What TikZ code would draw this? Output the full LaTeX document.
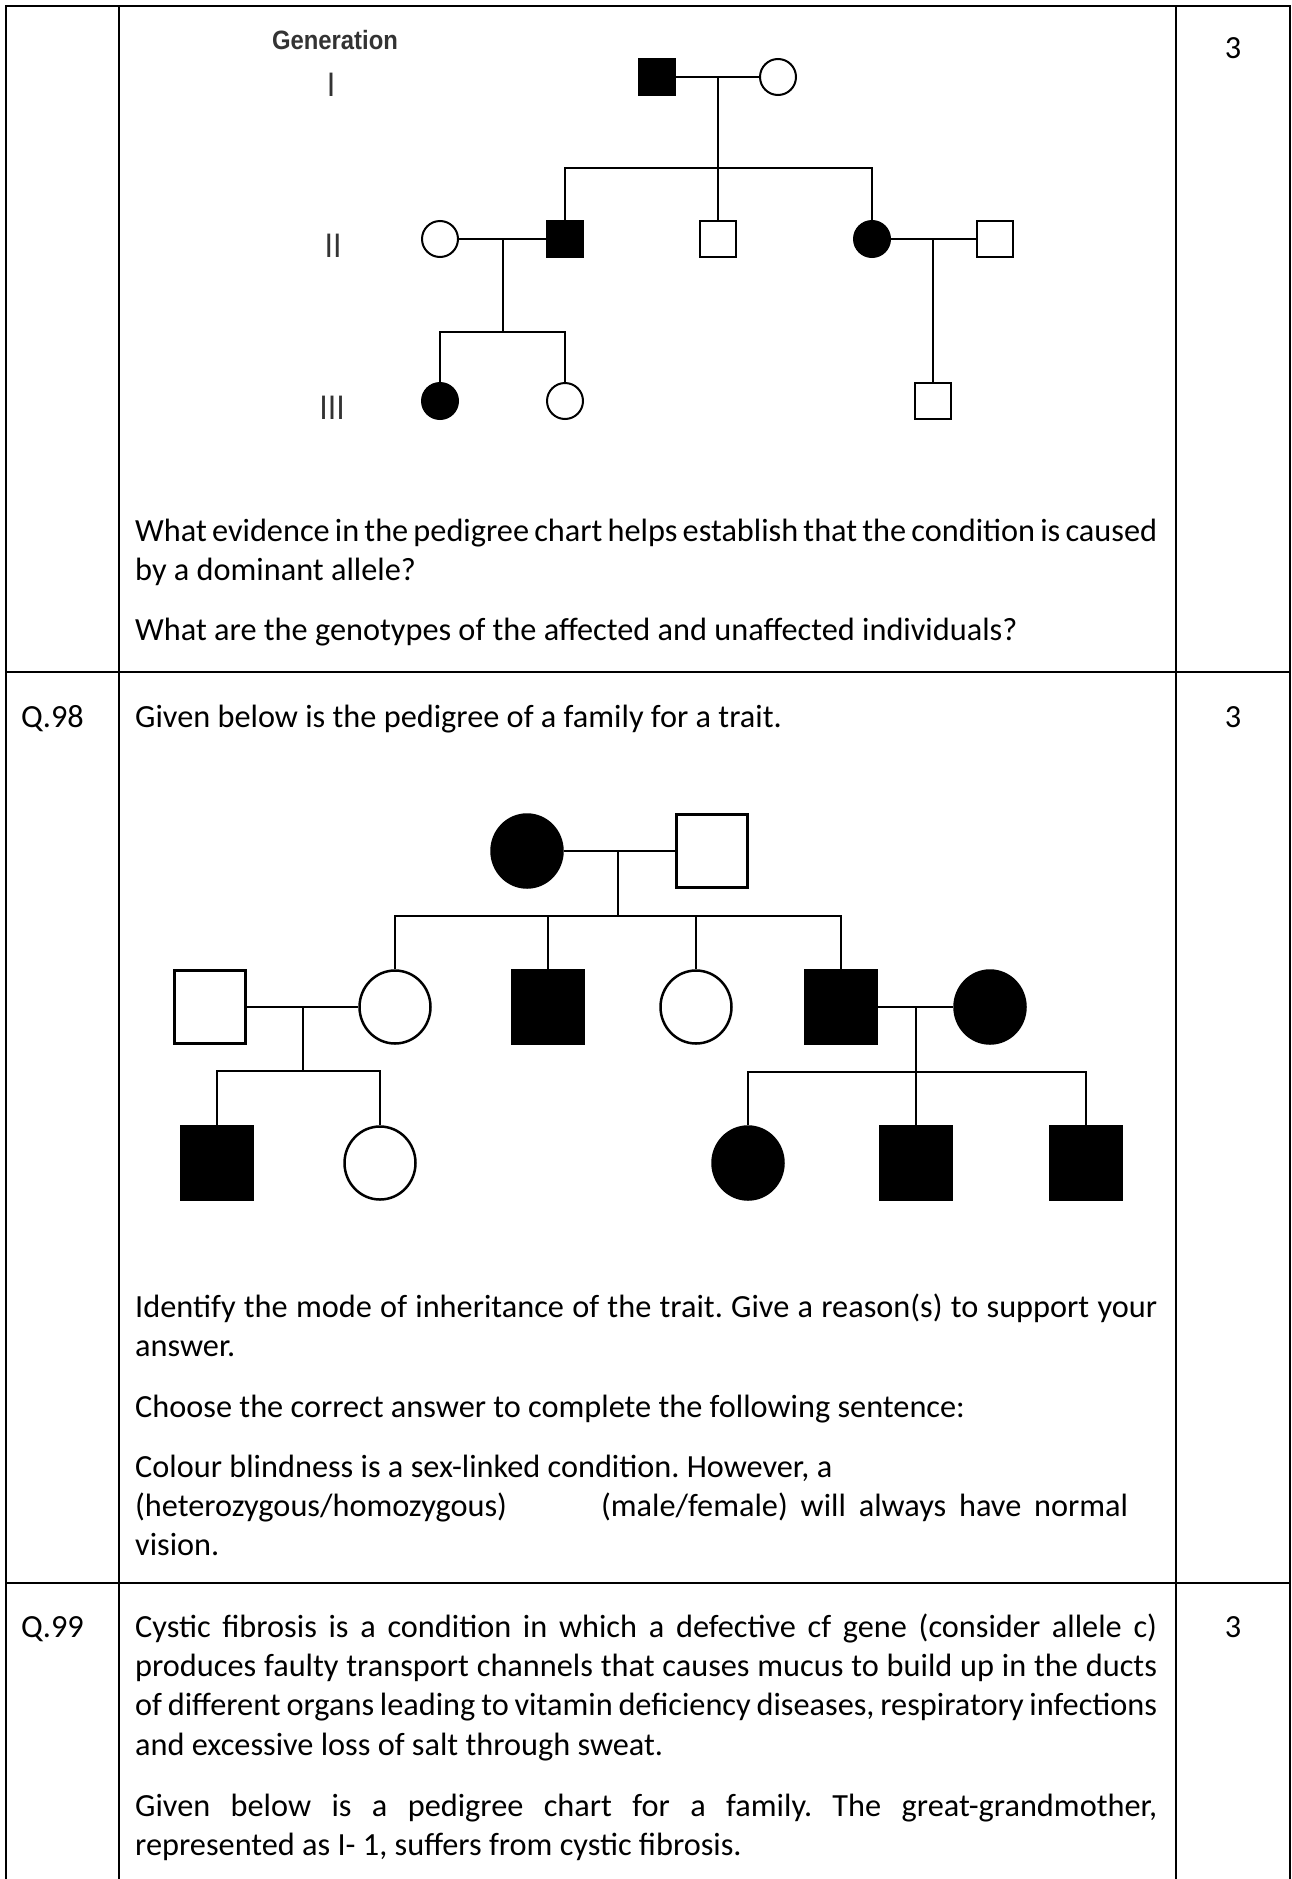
\documentclass[tikz,border=0pt]{standalone}
\usepackage{fontspec}
\setmainfont{Carlito}
\newfontfamily\genfont[FakeStretch=0.9]{Liberation Sans}
\usetikzlibrary{shapes,calc}
\frenchspacing

\begin{document}
\begin{tikzpicture}[x=1pt,y=-1pt,
    tbl/.style={line width=2.2pt},
    male/.style={draw,rectangle,line width=2pt,minimum size=36pt,inner sep=0pt},
    female/.style={draw,circle,line width=2pt,minimum size=36pt,inner sep=0pt},
    bigmale/.style={draw,rectangle,line width=2.5pt,minimum width=71pt,minimum height=73pt,inner sep=0pt},
    bigfemale/.style={draw,ellipse,line width=2.5pt,minimum width=71pt,minimum height=73pt,inner sep=0pt},
    aff/.style={fill=black},
    txt/.style={anchor=base west,inner sep=0pt,text width=1022pt,align=justify,
                font=\fontsize{32.3}{39.4}\selectfont\frenchspacing},
    score/.style={anchor=base,inner sep=0pt,font=\fontsize{32.3}{39.4}\selectfont},
    gen/.style={anchor=base,inner sep=0pt,text=black!80,font=\genfont\fontsize{34}{34}\selectfont}]

  \useasboundingbox (0,0) rectangle (1291,1879);
  \fill[white] (0,0) rectangle (1291,1879);

  \draw[tbl] (6,1879) |- (1290,6) -- (1290,1879);
  \draw[tbl] (119,6) -- (119,1879)
             (1176,6) -- (1176,1879)
             (6,672) -- (1290,672)
             (6,1583) -- (1290,1583);

  \node[gen,font=\genfont\bfseries\fontsize{26.5}{26.5}\selectfont] (gen) at (335,49.5) {Generation};
  \node[gen] (g1) at (331,96)  {I};
  \node[gen] (g2) at (333,257) {II};
  \node[gen] (g3) at (332,419) {III};

  \node[male,aff]   (A1) at (657,77)  {};
  \node[female]     (A2) at (778,77)  {};
  \node[female]     (B1) at (440,239) {};
  \node[male,aff]   (B2) at (565,239) {};
  \node[male]       (B3) at (718,239) {};
  \node[female,aff] (B4) at (872,239) {};
  \node[male]       (B5) at (995,239) {};
  \node[female,aff] (C1) at (440,401) {};
  \node[female]     (C2) at (565,401) {};
  \node[male]       (C3) at (933,401) {};

  \coordinate (sA) at (718,168);
  \coordinate (sB) at (503,332);

  \begin{scope}[line width=2pt]
  \path (A1) edge (A2)
        (B1) edge (B2)
        (B4) edge (B5);
  \draw (B2.north) |- (sA) -| (B4.north);
  \draw (sA |- A1) -- (B3);
  \draw (sB |- B1) -- (sB);
  \draw (C1.north) |- (sB) -| (C2.north);
  \draw (C3 |- B4) -- (C3);
  \end{scope}

  \node[bigfemale,aff] (D1) at (527,851)  {};
  \node[bigmale]       (D2) at (712,851)  {};
  \node[bigmale]       (E1) at (210,1007) {};
  \node[bigfemale]     (E2) at (395,1007) {};
  \node[bigmale,aff]   (E3) at (548,1007) {};
  \node[bigfemale]     (E4) at (696,1007) {};
  \node[bigmale,aff]   (E5) at (841,1007) {};
  \node[bigfemale,aff] (E6) at (990,1007) {};
  \node[bigmale,aff]   (F1) at (217,1163) {};
  \node[bigfemale]     (F2) at (380,1163) {};
  \node[bigfemale,aff] (F3) at (748,1163) {};
  \node[bigmale,aff]   (F4) at (916,1163) {};
  \node[bigmale,aff]   (F5) at (1086,1163) {};

  \coordinate (sD) at (618,916);
  \coordinate (sE) at (303,1071);
  \coordinate (sF) at (916,1072);

  \begin{scope}[line width=2.5pt]
  \path (D1) edge (D2)
        (E1) edge (E2)
        (E5) edge (E6);
  \draw (sD |- D1) -- (sD);
  \draw (E2.north) |- (sD) -| (E5.north);
  \draw (E3.north) -- (E3 |- sD);
  \draw (E4.north) -- (E4 |- sD);
  \draw (sE |- E1) -- (sE);
  \draw (F1.north) |- (sE) -| (F2.north);
  \draw (sF |- E5) -- (F4);
  \draw (F3.north) |- (sF) -| (F5.north);
  \end{scope}

  \node[score] (m97) at (1233,58)   {3};
  \node[score] (m98) at (1233,727)  {3};
  \node[score] (m99) at (1233,1637) {3};
  \node[score,anchor=base west] (q98) at (21,727)  {Q.98};
  \node[score,anchor=base west] (q99) at (21,1637) {Q.99};

  \node[txt] (t1) at (135,541) {What evidence in the pedigree chart helps establish that the condition is caused\linebreak by a dominant allele?};
  \node[txt] (t2) at (135,640) {What are the genotypes of the affected and unaffected individuals?};
  \node[txt] (t3) at (135,727) {Given below is the pedigree of a family for a trait.};
  \node[txt] (t4) at (135,1317) {Identify the mode of inheritance of the trait. Give a reason(s) to support your\linebreak answer.};
  \node[txt] (t5) at (135,1417) {Choose the correct answer to complete the following sentence:};
  \node[txt] (t6) at (135,1477) {Colour blindness is a sex-linked condition. However, a\\
    \makebox[466pt][l]{(heterozygous/homozygous)}\makebox[527pt][s]{(male/female) will always have normal}\\
    vision.};
  \node[txt] (t7) at (135,1637) {Cystic fibrosis is a condition in which a defective cf gene (consider allele c)\linebreak
    produces faulty transport channels that causes mucus to build up in the ducts\linebreak
    of different organs leading to vitamin deficiency diseases, respiratory infections\linebreak
    and excessive loss of salt through sweat.};
  \node[txt] (t8) at (135,1816) {Given below is a pedigree chart for a family. The great-grandmother,\linebreak represented as I- 1, suffers from cystic fibrosis.};
\end{tikzpicture}
\end{document}
